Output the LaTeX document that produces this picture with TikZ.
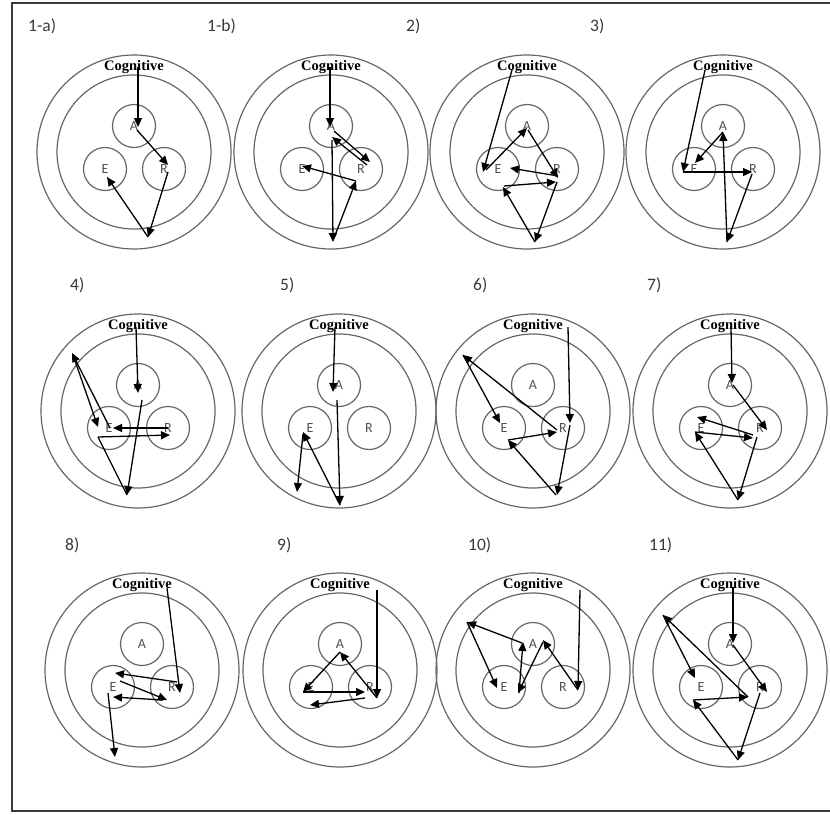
\documentclass[tikz,border=0pt]{standalone}
\usepackage{fontspec}
\setmainfont{Liberation Serif}
\newfontfamily\labfont{Carlito}
\usetikzlibrary{arrows.meta}
\definecolor{ringgray}{HTML}{666666}
\definecolor{labgray}{HTML}{3A3A3A}
\definecolor{lettergray}{HTML}{505050}

% one panel: outer ring, middle ring, three zones and the "Cognitive" title
\newcommand{\emopanel}[3]{%
  \begin{scope}[shift={(#2,#3)}]
    \node[outerring] (#1-outer) at (0,0) {};
    \node[midring] (#1-middle) at (0,0) {};
    \node[zone] (#1-A) at (0,-26) {A};
    \node[zone] (#1-E) at (-29,17) {E};
    \node[zone] (#1-R) at (30,17) {R};
    \node[cogtext] (#1-title) at (0,-85) {Cognitive};
  \end{scope}}

\begin{document}
\begin{tikzpicture}[x=1pt,y=-1pt,
  outerring/.style={circle,draw=ringgray,line width=1.2pt,minimum size=194pt,inner sep=0pt},
  midring/.style={circle,draw=ringgray,line width=1.2pt,minimum size=154pt,inner sep=0pt},
  zone/.style={circle,draw=ringgray,line width=1.2pt,minimum size=43pt,inner sep=0pt,
    text=lettergray,font=\labfont\fontsize{14}{14}\selectfont},
  cogtext/.style={font=\bfseries\fontsize{14.5}{14.5}\selectfont,inner sep=0pt},
  panellabel/.style={anchor=west,inner sep=0pt,text=labgray,font=\labfont\fontsize{17.5}{17.5}\selectfont},
  move/.style={-{Triangle[length=9pt,width=8pt]},line width=1.3pt,black},
  trail/.style={line width=1.3pt,black}]

\useasboundingbox (0,0) rectangle (830,814);
\fill[white] (0,0) rectangle (830,814);

% frame
\draw[labgray,line width=2.2pt] (836,3) -- (12,3) -- (12,811) -- (836,811);

% panel labels
\node[panellabel] (l1a) at (28,26) {1-a)};
\node[panellabel] (l1b) at (207,26) {1-b)};
\node[panellabel] (l2) at (406,26) {2)};
\node[panellabel] (l3) at (590,26) {3)};
\node[panellabel] (l4) at (70,285) {4)};
\node[panellabel] (l5) at (280,285) {5)};
\node[panellabel] (l6) at (473,285) {6)};
\node[panellabel] (l7) at (647,285) {7)};
\node[panellabel] (l8) at (65,545) {8)};
\node[panellabel] (l9) at (277,545) {9)};
\node[panellabel] (l10) at (468,545) {10)};
\node[panellabel] (l11) at (649,545) {11)};

% panels
\emopanel{p1a}{134}{152}
\emopanel{p1b}{331}{152}
\emopanel{p2}{527}{152}
\emopanel{p3}{723}{152}
\emopanel{p4}{138}{411}
\emopanel{p5}{339}{411}
\emopanel{p6}{533}{411}
\emopanel{p7}{730}{411}
\emopanel{p8}{142}{670}
\emopanel{p9}{340}{670}
\emopanel{p10}{533}{670}
\emopanel{p11}{730}{670}

% 1-a
\begin{scope}[shift={(134,152)}]
  \coordinate (a1c) at (4,-85);  \coordinate (a1a) at (4,-25);
  \coordinate (a1a2) at (3,-22); \coordinate (a1r) at (34,13);
  \coordinate (a1r2) at (34,20); \coordinate (a1b) at (14,85);
  \coordinate (a1e) at (-27,25);
  \draw[move] (a1c) -- (a1a);
  \draw[move] (a1a2) -- (a1r);
  \draw[move] (a1r2) -- (a1b);
  \draw[move] (a1b) -- (a1e);
\end{scope}

% 1-b
\begin{scope}[shift={(331,152)}]
  \coordinate (b1c) at (-1,-85); \coordinate (b1a) at (-1,-25);
  \coordinate (b1a2) at (3,-21); \coordinate (b1r) at (39,10);
  \coordinate (b1r2) at (36,13); \coordinate (b1a3) at (1,-15);
  \coordinate (b1a4) at (1,-12); \coordinate (b1b) at (2,90);
  \coordinate (b1b2) at (3,86);  \coordinate (b1r3) at (25,29);
  \coordinate (b1e) at (-29,14);
  \draw[move] (b1c) -- (b1a);
  \draw[move] (b1a2) -- (b1r);
  \draw[move] (b1r2) -- (b1a3);
  \draw[move] (b1a4) -- (b1b);
  \draw[move] (b1b2) -- (b1r3);
  \draw[move] (b1r3) -- (b1e);
\end{scope}

% 2
\begin{scope}[shift={(527,152)}]
  \coordinate (c2c) at (-15,-82); \coordinate (c2e) at (-44,20);
  \coordinate (c2e2) at (-41,18); \coordinate (c2a) at (0,-24);
  \coordinate (c2a2) at (1,-22);  \coordinate (c2r) at (31,26);
  \coordinate (c2r2) at (31,24);  \coordinate (c2e3) at (-17,16);
  \coordinate (c2r3) at (30,30);  \coordinate (c2b) at (8,90);
  \coordinate (c2e4) at (-24,35); \coordinate (c2e5) at (-23,34);
  \coordinate (c2r4) at (29,30);
  \draw[move] (c2c) -- (c2e);
  \draw[move] (c2e2) -- (c2a);
  \draw[move] (c2a2) -- (c2r);
  \draw[move] (c2r2) -- (c2e3);
  \draw[move] (c2r3) -- (c2b);
  \draw[move] (c2b) -- (c2e4);
  \draw[move] (c2e5) -- (c2r4);
\end{scope}

% 3
\begin{scope}[shift={(723,152)}]
  \coordinate (d3c) at (-18,-82); \coordinate (d3e) at (-40,20);
  \coordinate (d3r) at (29,20);   \coordinate (d3r2) at (29,22);
  \coordinate (d3b) at (4,90);    \coordinate (d3a) at (0,-20);
  \coordinate (d3e2) at (-28,11);
  \draw[move] (d3c) -- (d3e);
  \draw[move] (d3e) -- (d3r);
  \draw[move] (d3r2) -- (d3b);
  \draw[move] (d3b) -- (d3a);
  \draw[move] (d3a) -- (d3e2);
\end{scope}

% 4
\begin{scope}[shift={(138,411)}]
  \coordinate (e4c) at (-2,-84);  \coordinate (e4a) at (0,-18);
  \coordinate (e4a2) at (4,-11);  \coordinate (e4b) at (-11,84);
  \coordinate (e4e) at (-40,26);  \coordinate (e4r) at (32,24);
  \coordinate (e4r2) at (30,17);  \coordinate (e4e2) at (-25,17);
  \coordinate (e4e3) at (-28,17); \coordinate (e4u) at (-66,-58);
  \coordinate (e4u2) at (-65,-56); \coordinate (e4e4) at (-40,16);
  \draw[move] (e4c) -- (e4a);
  \draw[move] (e4a2) -- (e4b);
  \draw[trail] (e4b) -- (e4e);
  \draw[move] (e4e) -- (e4r);
  \draw[move] (e4r2) -- (e4e2);
  \draw[move] (e4e3) -- (e4u);
  \draw[move] (e4u2) -- (e4e4);
\end{scope}

% 5
\begin{scope}[shift={(339,411)}]
  \coordinate (f5c) at (-4,-84);  \coordinate (f5a) at (-6,-19);
  \coordinate (f5a2) at (-2,-11); \coordinate (f5b) at (1,94);
  \coordinate (f5e) at (-36,21);  \coordinate (f5e2) at (-36,23);
  \coordinate (f5l) at (-42,81);
  \draw[move] (f5c) -- (f5a);
  \draw[move] (f5a2) -- (f5b);
  \draw[move] (f5b) -- (f5e);
  \draw[move] (f5e2) -- (f5l);
\end{scope}

% 6
\begin{scope}[shift={(533,411)}]
  \coordinate (g6c) at (35,-84);  \coordinate (g6r) at (37,12);
  \coordinate (g6r2) at (37,14);  \coordinate (g6b) at (24,84);
  \coordinate (g6b2) at (23,84);  \coordinate (g6e) at (-25,29);
  \coordinate (g6r3) at (24,21);  \coordinate (g6r4) at (24,19);
  \coordinate (g6u) at (-70,-56); \coordinate (g6e2) at (-33,12);
  \draw[move] (g6c) -- (g6r);
  \draw[move] (g6r2) -- (g6b);
  \draw[move] (g6b2) -- (g6e);
  \draw[move] (g6e) -- (g6r3);
  \draw[move] (g6r4) -- (g6u);
  \draw[move] (g6u) -- (g6e2);
\end{scope}

% 7
\begin{scope}[shift={(730,411)}]
  \coordinate (h7c) at (1,-84);   \coordinate (h7a) at (2,-28);
  \coordinate (h7a2) at (3,-26);  \coordinate (h7r) at (37,19);
  \coordinate (h7r2) at (27,26);  \coordinate (h7b) at (8,89);
  \coordinate (h7e) at (-35,21);  \coordinate (h7r3) at (23,27);
  \coordinate (h7r4) at (23,24);  \coordinate (h7e2) at (-33,6);
  \draw[move] (h7c) -- (h7a);
  \draw[move] (h7a2) -- (h7r);
  \draw[move] (h7r2) -- (h7b);
  \draw[move] (h7b) -- (h7e);
  \draw[move] (h7e) -- (h7r3);
  \draw[move] (h7r4) -- (h7e2);
\end{scope}

% 8
\begin{scope}[shift={(142,670)}]
  \coordinate (i8c) at (25,-82);  \coordinate (i8r) at (38,23);
  \coordinate (i8r2) at (35,12);  \coordinate (i8e) at (-27,3);
  \coordinate (i8e2) at (-22,11); \coordinate (i8r3) at (25,30);
  \coordinate (i8r4) at (21,30);  \coordinate (i8e3) at (-29,27);
  \coordinate (i8e4) at (-34,23); \coordinate (i8l) at (-27,87);
  \draw[move] (i8c) -- (i8r);
  \draw[move] (i8r2) -- (i8e);
  \draw[move] (i8e2) -- (i8r3);
  \draw[move] (i8r4) -- (i8e3);
  \draw[move] (i8e4) -- (i8l);
\end{scope}

% 9
\begin{scope}[shift={(340,670)}]
  \coordinate (j9c) at (37,-80);  \coordinate (j9r) at (37,28);
  \coordinate (j9a) at (0,-18);   \coordinate (j9e) at (-37,22);
  \coordinate (j9r2) at (25,22);  \coordinate (j9r3) at (25,28);
  \coordinate (j9e2) at (-30,35);
  \draw[move] (j9c) -- (j9r);
  \draw[move] (j9r) -- (j9a);
  \draw[move] (j9a) -- (j9e);
  \draw[move] (j9e) -- (j9r2);
  \draw[move] (j9r3) -- (j9e2);
\end{scope}

% 10
\begin{scope}[shift={(533,670)}]
  \coordinate (k10c) at (47,-80);  \coordinate (k10r) at (45,20);
  \coordinate (k10a) at (10,-30);  \coordinate (k10a2) at (10,-28);
  \coordinate (k10e) at (-15,23);  \coordinate (k10e2) at (-14,23);
  \coordinate (k10a3) at (-10,-28); \coordinate (k10a4) at (-11,-27);
  \coordinate (k10u) at (-66,-48); \coordinate (k10e3) at (-36,18);
  \draw[move] (k10c) -- (k10r);
  \draw[move] (k10r) -- (k10a);
  \draw[move] (k10a2) -- (k10e);
  \draw[move] (k10e2) -- (k10a3);
  \draw[move] (k10a4) -- (k10u);
  \draw[move] (k10u) -- (k10e3);
\end{scope}

% 11
\begin{scope}[shift={(730,670)}]
  \coordinate (m11c) at (3,-83);  \coordinate (m11a) at (3,-27);
  \coordinate (m11a2) at (3,-25); \coordinate (m11r) at (37,22);
  \coordinate (m11r2) at (30,23); \coordinate (m11b) at (8,90);
  \coordinate (m11e) at (-37,30); \coordinate (m11r3) at (18,27);
  \coordinate (m11u) at (-67,-55); \coordinate (m11e2) at (-35,8);
  \draw[move] (m11c) -- (m11a);
  \draw[move] (m11a2) -- (m11r);
  \draw[move] (m11r2) -- (m11b);
  \draw[move] (m11b) -- (m11e);
  \draw[move] (m11e) -- (m11r3);
  \draw[move] (m11r3) -- (m11u);
  \draw[move] (m11u) -- (m11e2);
\end{scope}

\end{tikzpicture}
\end{document}
